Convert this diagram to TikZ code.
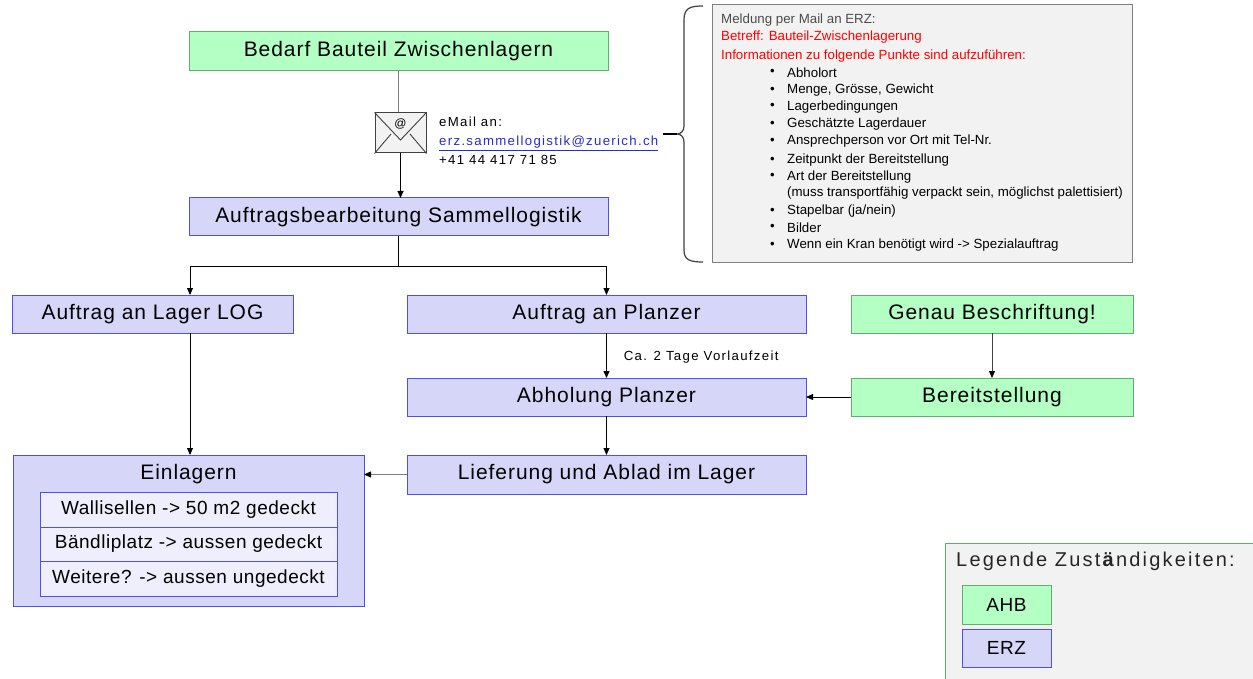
\documentclass[tikz,border=0pt]{standalone}
\usepackage{fontspec}
\setmainfont{Liberation Sans}
\newfontfamily\widefont[LetterSpace=4.5]{Liberation Sans}
\newfontfamily\innerfont[LetterSpace=2.8]{Liberation Sans}
\newfontfamily\widesmall[LetterSpace=10]{Liberation Sans}
\newfontfamily\widelegend[LetterSpace=11]{Liberation Sans}
\usetikzlibrary{arrows.meta,calc}
\definecolor{gfill}{HTML}{B3FFC4}
\definecolor{gline}{HTML}{5FAF6F}
\definecolor{bfill}{HTML}{D6D6F8}
\definecolor{bline}{HTML}{4F4FEF}
\definecolor{ifill}{HTML}{EEEEFC}
\definecolor{infofill}{HTML}{F2F2F2}
\definecolor{infoline}{HTML}{7F7F7F}
\definecolor{linkblue}{HTML}{2B2BC8}
\definecolor{darkline}{HTML}{404040}
\begin{document}
\begin{tikzpicture}[x=1pt,y=-1pt,
  box/.style={draw, line width=1pt, inner sep=0pt, outer sep=0pt,
    font=\widefont\fontsize{21}{24}\selectfont},
  ahb/.style={box, fill=gfill, draw=gline},
  erz/.style={box, fill=bfill, draw=bline},
  inner/.style={box, fill=ifill, draw=bline, font=\innerfont\fontsize{19}{22}\selectfont},
  arr/.style={-{Triangle[length=7pt,width=6pt,color=black]}, line width=0.8pt},
  infotext/.style={anchor=west, inner sep=0pt, font=\fontsize{13.3}{16}\selectfont},
  smalltext/.style={inner sep=0pt, font=\widesmall\fontsize{13.2}{19}\selectfont},
]
\clip (0,0) rectangle (1253,679);
\fill[white] (0,0) rectangle (1253,679);

% main flow nodes
\node[ahb, minimum width=419pt, minimum height=39pt] (bedarf) at (398.5,51.5) {Bedarf Bauteil Zwischenlagern};
\node[draw=darkline, fill=infofill, line width=1pt, minimum width=51pt, minimum height=40pt, inner sep=0pt] (env) at (400.5,133) {};
\node[erz, minimum width=419pt, minimum height=38pt] (auftragsb) at (398.5,217) {Auftragsbearbeitung Sammellogistik};
\node[erz, minimum width=281pt, minimum height=38pt] (lager) at (152.5,314) {Auftrag an Lager LOG};
\node[erz, minimum width=399pt, minimum height=38pt] (planzer) at (606.5,314) {Auftrag an Planzer};
\node[ahb, minimum width=282pt, minimum height=38pt] (genau) at (992,314) {Genau Beschriftung!};
\node[erz, minimum width=399pt, minimum height=38pt] (abholung) at (606.5,397) {Abholung Planzer};
\node[ahb, minimum width=282pt, minimum height=38pt] (bereit) at (992,397) {Bereitstellung};
\node[erz, minimum width=399pt, minimum height=39pt] (lieferung) at (606.5,474.5) {Lieferung und Ablad im Lager};
\node[erz, minimum width=351pt, minimum height=151pt] (einlagern) at (188.5,530.5) {};
\node[inner sep=0pt, font=\widefont\fontsize{21}{24}\selectfont] (einlagernT) at (188.5,474) {Einlagern};
\node[inner, minimum width=297pt, minimum height=35pt] (wall) at (188.5,509.5) {Wallisellen -> 50 m2 gedeckt};
\node[inner, minimum width=297pt, minimum height=34pt] (baend) at (188.5,544) {Bändliplatz -> aussen gedeckt};
\node[inner, minimum width=297pt, minimum height=35pt] (weitere) at (188.5,578.5) {Weitere? -> aussen ungedeckt};

% envelope details
\draw[darkline, line width=0.9pt] (env.north west) -- (400.5,140) -- (env.north east);
\draw[darkline, line width=0.9pt] (env.south west) -- (391,134);
\draw[darkline, line width=0.9pt] (env.south east) -- (410,134);
\node[inner sep=0pt, font=\fontsize{12}{12}\selectfont] (at) at (400.5,123.5) {@};

% mail text
\node[smalltext, anchor=west, align=left] (mailtext) at (439,141)
  {eMail an:\\{\color{linkblue}\underline{erz.sammellogistik@zuerich.ch}}\\+41 44 417 71 85};

% info box
\node[draw=infoline, fill=infofill, line width=1pt, minimum width=420pt, minimum height=257pt, inner sep=0pt] (info) at (922,133.5) {};
\node[infotext, text=black!70] (l1) at (721,20) {Meldung per Mail an ERZ:};
\node[infotext, text=red] (l2) at (721,37) {Betreff: Bauteil-Zwischenlagerung};
\node[infotext, text=red] (l3) at (721,56) {Informationen zu folgende Punkte sind aufzuführen:};
\foreach \yy/\tt [count=\i] in {72.7/Abholort, 90/{Menge, Grösse, Gewicht}, 106.7/Lagerbedingungen,
   124/Geschätzte Lagerdauer, 141/Ansprechperson vor Ort mit Tel-Nr., 160/Zeitpunkt der Bereitstellung,
   176.7/Art der Bereitstellung, 211/{Stapelbar (ja/nein)}, 227.7/Bilder,
   245/Wenn ein Kran benötigt wird -> Spezialauftrag}{
  \node[infotext] (b\i) at (770,\yy) {•};
  \node[infotext] (t\i) at (787,\yy) {\tt};
}
\node[infotext] (tmuss) at (787,193.3) {(muss transportfähig verpackt sein, möglichst palettisiert)};

% brace
\draw[darkline, line width=1.2pt] (703,6) .. controls (690,6) and (684,8) .. (684,20) -- (684,126)
  .. controls (684,131) and (681,134) .. (677,134) .. controls (681,134) and (684,137) .. (684,142)
  -- (684,250) .. controls (684,260) and (690,262) .. (703,262);
\coordinate (bracetip) at (677,134);
\coordinate (mailend) at (663,134);
\draw[black, line width=1.2pt] (mailend) -- (bracetip);

% connectors
\coordinate (bl) at (190,266);
\coordinate (br) at (606.5,266);
\draw[gray, line width=0.9pt] (bedarf.south) -- (bedarf.south |- env.north);
\draw[arr] (env.south) -- (env.south |- auftragsb.north);
\draw[arr] (auftragsb.south) |- (bl) -- (bl |- lager.north);
\draw[arr] (auftragsb.south) |- (br) -- (planzer.north);
\draw[arr] (bl |- lager.south) -- (bl |- einlagern.north);
\draw[arr] (planzer.south) -- node[smalltext, anchor=west, xshift=17pt, yshift=-2pt] (vorlauf) {Ca. 2 Tage Vorlaufzeit} (abholung.north);
\draw[arr] (abholung.south) -- (lieferung.north);
\draw[arr, darkline] (genau.south) -- (bereit.north);
\draw[arr] (bereit.west) -- (abholung.east);
\draw[arr, gray] (lieferung.west) -- (einlagern.east |- lieferung.west);

% legend
\node[draw=gline, fill=infofill, line width=1pt, minimum width=320pt, minimum height=150pt, inner sep=0pt, anchor=north west] (legend) at (945,543) {};
\node[anchor=west, inner sep=0pt, text=black!85, font=\widelegend\fontsize{20}{24}\selectfont] (legt) at (956,561) {Legende Zust\textbf{ä}ndigkeiten:};
\node[ahb, minimum width=89pt, minimum height=39pt, font=\innerfont\fontsize{19}{22}\selectfont] (lahb) at (1006.5,604.5) {AHB};
\node[erz, minimum width=89pt, minimum height=38pt, font=\innerfont\fontsize{19}{22}\selectfont] (lerz) at (1006.5,648) {ERZ};
\end{tikzpicture}
\end{document}
